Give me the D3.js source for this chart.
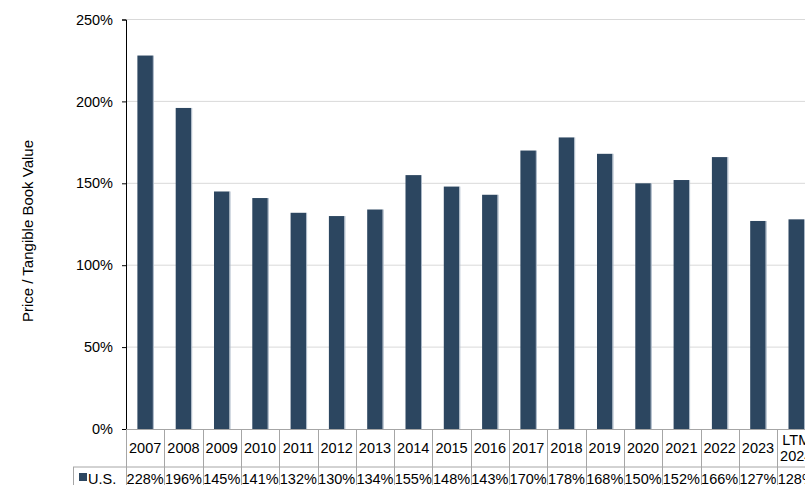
<!DOCTYPE html>
<html>
<head>
<meta charset="utf-8">
<script src="https://cdn.jsdelivr.net/npm/d3@7"></script>
<style>
  html, body { margin: 0; padding: 0; background: #fff; overflow: hidden; }
  svg { display: block; font-family: "Liberation Sans", Arial, sans-serif; }
</style>
</head>
<body>
<svg id="chart" width="805" height="485"></svg>
<script>
// Price / tangible book value by year (U.S.)
const categories = ["2007","2008","2009","2010","2011","2012","2013","2014","2015","2016","2017","2018","2019","2020","2021","2022","2023","LTM 2024"];
const usValues = [228,196,145,141,132,130,134,155,148,143,170,178,168,150,152,166,127,128];
const yTicks = [0,50,100,150,200,250];
const seriesName = "U.S.";

const W = 805, H = 485;
const plotLeft = 126, plotTop = 19.5, baseY = 429;
const colW = 38.3;
const plotRight = plotLeft + categories.length * colW;
const rowSplit = 467;
const fontSize = 14.5;

const svg = d3.select("#chart");
const barColor = "#2C4660";
const gridColor = "#d9d9d9";
const tableColor = "#a6a6a6";

const x = d3.scaleBand().domain(categories).range([plotLeft, plotRight]).padding(0);
const y = d3.scaleLinear().domain([0, 250]).range([baseY, plotTop]);

// gridlines
svg.append("g").selectAll("line")
  .data(yTicks.filter(t => t > 0))
  .join("line")
  .attr("x1", plotLeft).attr("x2", W)
  .attr("y1", d => y(d)).attr("y2", d => y(d))
  .attr("stroke", gridColor).attr("stroke-width", 1);

// y axis
const yAxis = d3.axisLeft(y).tickValues(yTicks).tickSize(4).tickPadding(9).tickFormat(d => d + "%");
const gy = svg.append("g").attr("transform", `translate(${plotLeft},0)`).call(yAxis);
gy.select(".domain").attr("stroke", "#000");
gy.selectAll(".tick line").attr("stroke", "#000");
gy.selectAll(".tick text").attr("font-size", fontSize).attr("fill", "#000")
  .attr("font-family", "Liberation Sans, Arial, sans-serif");

// bars
const bw = x.bandwidth() * 0.405;
const bars = svg.append("g");
bars.selectAll("rect.bar")
  .data(usValues)
  .join("rect")
  .attr("class", "bar")
  .attr("x", (d, i) => x(categories[i]) + (x.bandwidth() - bw) / 2)
  .attr("width", bw)
  .attr("y", d => y(d))
  .attr("height", d => baseY - y(d))
  .attr("fill", barColor);
// soft right edge on each bar
bars.selectAll("rect.edge")
  .data(usValues)
  .join("rect")
  .attr("class", "edge")
  .attr("x", (d, i) => x(categories[i]) + (x.bandwidth() + bw) / 2)
  .attr("width", 1)
  .attr("y", d => y(d))
  .attr("height", d => baseY - y(d))
  .attr("fill", "#a9b7c6");

// data table
const table = svg.append("g");
table.append("line").attr("x1", plotLeft).attr("x2", plotRight).attr("y1", baseY + 0.5).attr("y2", baseY + 0.5)
  .attr("stroke", tableColor);
table.append("line").attr("x1", 73).attr("x2", plotRight).attr("y1", rowSplit).attr("y2", rowSplit)
  .attr("stroke", tableColor);
const bounds = categories.map(c => x(c)).concat([plotRight]);
table.selectAll("line.v")
  .data(bounds)
  .join("line")
  .attr("class", "v")
  .attr("x1", d => Math.round(d) + 0.5).attr("x2", d => Math.round(d) + 0.5)
  .attr("y1", baseY).attr("y2", H)
  .attr("stroke", tableColor);
table.append("line").attr("x1", 73.5).attr("x2", 73.5).attr("y1", rowSplit).attr("y2", H)
  .attr("stroke", tableColor);

// category labels
const catText = table.selectAll("text.cat")
  .data(categories)
  .join("text")
  .attr("class", "cat")
  .attr("text-anchor", "middle")
  .attr("font-size", fontSize)
  .attr("fill", "#000");
catText.each(function(d) {
  const parts = d.split(" ");
  const t = d3.select(this);
  const cx = x(d) + x.bandwidth() / 2;
  if (parts.length === 1) {
    t.append("tspan").attr("x", cx).attr("y", 453).text(d);
  } else {
    t.append("tspan").attr("x", cx).attr("y", 445).text(parts[0]);
    t.append("tspan").attr("x", cx).attr("y", 461).text(parts[1]);
  }
});

// value row
table.selectAll("text.val")
  .data(usValues)
  .join("text")
  .attr("class", "val")
  .attr("x", (d, i) => x(categories[i]) + x.bandwidth() / 2)
  .attr("y", 483.5)
  .attr("text-anchor", "middle")
  .attr("font-size", fontSize)
  .attr("fill", "#000")
  .text(d => d + "%");

// legend key in the table
table.append("rect").attr("x", 79).attr("y", 473).attr("width", 8).attr("height", 8).attr("fill", barColor);
table.append("text").attr("x", 88).attr("y", 483.5).attr("font-size", fontSize).attr("fill", "#000").text(seriesName);

// y axis title
svg.append("text")
  .attr("transform", "translate(33,231) rotate(-90)")
  .attr("text-anchor", "middle")
  .attr("font-size", 15)
  .attr("fill", "#000")
  .text("Price / Tangible Book Value");
</script>
</body>
</html>
